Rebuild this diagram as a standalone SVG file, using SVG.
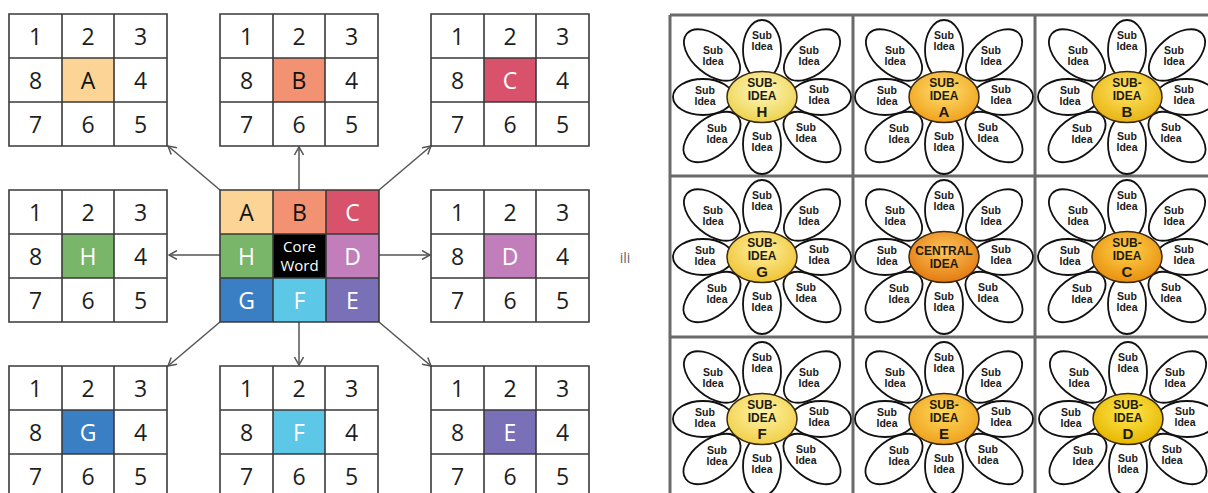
<svg xmlns="http://www.w3.org/2000/svg" xmlns:xlink="http://www.w3.org/1999/xlink" width="1208" height="493" viewBox="0 0 1208 493">
<style>
.bg{fill:#ffffff}
.gl{stroke:#3a3a3a;stroke-width:1.6;fill:none}
.d{font-family:"Open Sans","Noto Sans",sans-serif;font-size:23px;fill:#1e1e1e;text-anchor:middle}
.lw{fill:#ffffff}
.lb{fill:#111111}
.cw{font-family:"Open Sans","Noto Sans",sans-serif;font-size:15px;fill:#ffffff;text-anchor:middle}
.ar{stroke:#555555;stroke-width:1.5;fill:none}
.ili{font-family:"Open Sans","Noto Sans",sans-serif;font-size:14px;fill:#666666;text-anchor:middle}
.fg{stroke:#6a6a6a;stroke-width:3;fill:none}
.pt{fill:#ffffff;stroke:#111111;stroke-width:1.8}
.ce{stroke:#3a2a10;stroke-width:1.5}
.s{font-family:"Liberation Sans",Arial,sans-serif;font-size:10.5px;font-weight:bold;fill:#1a1a1a;text-anchor:middle}
.ct{font-family:"Liberation Sans",Arial,sans-serif;font-size:12px;font-weight:bold;fill:#1f1a10;text-anchor:middle}
.cl{font-family:"Liberation Sans",Arial,sans-serif;font-size:15px;font-weight:bold;fill:#1f1a10;text-anchor:middle}
</style>
<defs>
<marker id="ah" viewBox="0 0 10 10" refX="9" refY="5" markerWidth="10" markerHeight="10" markerUnits="userSpaceOnUse" orient="auto">
<path d="M1,0.5 L9,5 L1,9.5" fill="none" stroke="#555555" stroke-width="1.5"/>
</marker>
<radialGradient id="gH" cx="50%" cy="38%" r="62%"><stop offset="0" stop-color="#fff8c0"/><stop offset="1" stop-color="#ecd24e"/></radialGradient>
<radialGradient id="gA" cx="50%" cy="38%" r="62%"><stop offset="0" stop-color="#ffe070"/><stop offset="1" stop-color="#f0a11c"/></radialGradient>
<radialGradient id="gB" cx="50%" cy="38%" r="62%"><stop offset="0" stop-color="#ffe766"/><stop offset="1" stop-color="#e8b313"/></radialGradient>
<radialGradient id="gG" cx="50%" cy="38%" r="62%"><stop offset="0" stop-color="#fff0a0"/><stop offset="1" stop-color="#efc435"/></radialGradient>
<radialGradient id="gX" cx="50%" cy="38%" r="62%"><stop offset="0" stop-color="#ffc65a"/><stop offset="1" stop-color="#e27a10"/></radialGradient>
<radialGradient id="gC" cx="50%" cy="38%" r="62%"><stop offset="0" stop-color="#ffd24a"/><stop offset="1" stop-color="#e8900f"/></radialGradient>
<radialGradient id="gF" cx="50%" cy="38%" r="62%"><stop offset="0" stop-color="#fff4a8"/><stop offset="1" stop-color="#f0cf48"/></radialGradient>
<radialGradient id="gE" cx="50%" cy="38%" r="62%"><stop offset="0" stop-color="#ffd85a"/><stop offset="1" stop-color="#eea21e"/></radialGradient>
<radialGradient id="gD" cx="50%" cy="38%" r="62%"><stop offset="0" stop-color="#ffe850"/><stop offset="1" stop-color="#e6b600"/></radialGradient>
<g id="petals">
<ellipse class="pt" rx="33" ry="19" transform="translate(-50,-42) rotate(40)"/>
<ellipse class="pt" rx="33" ry="19" transform="translate(50,-42) rotate(-40)"/>
<ellipse class="pt" rx="33" ry="19" transform="translate(-50,40) rotate(-38)"/>
<ellipse class="pt" rx="33" ry="19" transform="translate(50,40) rotate(38)"/>
<ellipse class="pt" cx="-59" cy="0" rx="30" ry="18"/>
<ellipse class="pt" cx="59" cy="0" rx="30" ry="18"/>
<ellipse class="pt" cx="0" cy="-47" rx="19" ry="30"/>
<ellipse class="pt" cx="0" cy="47" rx="19" ry="30"/>
</g>
<g id="grid">
<rect class="bg" x="0" y="0" width="158" height="132"/>
</g>
</defs>
<rect x="0" y="0" width="1208" height="493" fill="#ffffff"/>

<!-- connectors -->
<g id="connectors">
<line class="ar" x1="220" y1="190" x2="168" y2="146" marker-end="url(#ah)"/>
<line class="ar" x1="299" y1="190" x2="299" y2="147" marker-end="url(#ah)"/>
<line class="ar" x1="379" y1="190" x2="431" y2="146" marker-end="url(#ah)"/>
<line class="ar" x1="220" y1="255" x2="169" y2="255" marker-end="url(#ah)"/>
<line class="ar" x1="379" y1="255" x2="430" y2="255" marker-end="url(#ah)"/>
<line class="ar" x1="220" y1="322" x2="168" y2="366" marker-end="url(#ah)"/>
<line class="ar" x1="299" y1="322" x2="299" y2="365" marker-end="url(#ah)"/>
<line class="ar" x1="379" y1="322" x2="431" y2="366" marker-end="url(#ah)"/>
</g>

<!-- outer grids -->
<g id="grid-A" transform="translate(9,14)">
<rect class="bg" x="0" y="0" width="158" height="132"/>
<rect x="53" y="44" width="52" height="44" fill="#fbd496"/>
<path class="gl" d="M0,0H158V132H0Z M53,0V132 M105,0V132 M0,44H158 M0,88H158"/>
<text class="d" x="26.5" y="30.5">1</text><text class="d" x="79" y="30.5">2</text><text class="d" x="131.5" y="30.5">3</text>
<text class="d" x="26.5" y="74.5">8</text><text class="d lb" x="79" y="74.5">A</text><text class="d" x="131.5" y="74.5">4</text>
<text class="d" x="26.5" y="118.5">7</text><text class="d" x="79" y="118.5">6</text><text class="d" x="131.5" y="118.5">5</text>
</g>
<g id="grid-B" transform="translate(220,14)">
<rect class="bg" x="0" y="0" width="158" height="132"/>
<rect x="53" y="44" width="52" height="44" fill="#f39272"/>
<path class="gl" d="M0,0H158V132H0Z M53,0V132 M105,0V132 M0,44H158 M0,88H158"/>
<text class="d" x="26.5" y="30.5">1</text><text class="d" x="79" y="30.5">2</text><text class="d" x="131.5" y="30.5">3</text>
<text class="d" x="26.5" y="74.5">8</text><text class="d lb" x="79" y="74.5">B</text><text class="d" x="131.5" y="74.5">4</text>
<text class="d" x="26.5" y="118.5">7</text><text class="d" x="79" y="118.5">6</text><text class="d" x="131.5" y="118.5">5</text>
</g>
<g id="grid-C" transform="translate(431,14)">
<rect class="bg" x="0" y="0" width="158" height="132"/>
<rect x="53" y="44" width="52" height="44" fill="#d9526b"/>
<path class="gl" d="M0,0H158V132H0Z M53,0V132 M105,0V132 M0,44H158 M0,88H158"/>
<text class="d" x="26.5" y="30.5">1</text><text class="d" x="79" y="30.5">2</text><text class="d" x="131.5" y="30.5">3</text>
<text class="d" x="26.5" y="74.5">8</text><text class="d lw" x="79" y="74.5">C</text><text class="d" x="131.5" y="74.5">4</text>
<text class="d" x="26.5" y="118.5">7</text><text class="d" x="79" y="118.5">6</text><text class="d" x="131.5" y="118.5">5</text>
</g>
<g id="grid-H" transform="translate(9,190)">
<rect class="bg" x="0" y="0" width="158" height="132"/>
<rect x="53" y="44" width="52" height="44" fill="#79b66a"/>
<path class="gl" d="M0,0H158V132H0Z M53,0V132 M105,0V132 M0,44H158 M0,88H158"/>
<text class="d" x="26.5" y="30.5">1</text><text class="d" x="79" y="30.5">2</text><text class="d" x="131.5" y="30.5">3</text>
<text class="d" x="26.5" y="74.5">8</text><text class="d lw" x="79" y="74.5">H</text><text class="d" x="131.5" y="74.5">4</text>
<text class="d" x="26.5" y="118.5">7</text><text class="d" x="79" y="118.5">6</text><text class="d" x="131.5" y="118.5">5</text>
</g>
<g id="grid-D" transform="translate(431,190)">
<rect class="bg" x="0" y="0" width="158" height="132"/>
<rect x="53" y="44" width="52" height="44" fill="#c27dbb"/>
<path class="gl" d="M0,0H158V132H0Z M53,0V132 M105,0V132 M0,44H158 M0,88H158"/>
<text class="d" x="26.5" y="30.5">1</text><text class="d" x="79" y="30.5">2</text><text class="d" x="131.5" y="30.5">3</text>
<text class="d" x="26.5" y="74.5">8</text><text class="d lw" x="79" y="74.5">D</text><text class="d" x="131.5" y="74.5">4</text>
<text class="d" x="26.5" y="118.5">7</text><text class="d" x="79" y="118.5">6</text><text class="d" x="131.5" y="118.5">5</text>
</g>
<g id="grid-G" transform="translate(9,366)">
<rect class="bg" x="0" y="0" width="158" height="132"/>
<rect x="53" y="44" width="52" height="44" fill="#3a7ec3"/>
<path class="gl" d="M0,0H158V132H0Z M53,0V132 M105,0V132 M0,44H158 M0,88H158"/>
<text class="d" x="26.5" y="30.5">1</text><text class="d" x="79" y="30.5">2</text><text class="d" x="131.5" y="30.5">3</text>
<text class="d" x="26.5" y="74.5">8</text><text class="d lw" x="79" y="74.5">G</text><text class="d" x="131.5" y="74.5">4</text>
<text class="d" x="26.5" y="118.5">7</text><text class="d" x="79" y="118.5">6</text><text class="d" x="131.5" y="118.5">5</text>
</g>
<g id="grid-F" transform="translate(220,366)">
<rect class="bg" x="0" y="0" width="158" height="132"/>
<rect x="53" y="44" width="52" height="44" fill="#5cc7e7"/>
<path class="gl" d="M0,0H158V132H0Z M53,0V132 M105,0V132 M0,44H158 M0,88H158"/>
<text class="d" x="26.5" y="30.5">1</text><text class="d" x="79" y="30.5">2</text><text class="d" x="131.5" y="30.5">3</text>
<text class="d" x="26.5" y="74.5">8</text><text class="d lw" x="79" y="74.5">F</text><text class="d" x="131.5" y="74.5">4</text>
<text class="d" x="26.5" y="118.5">7</text><text class="d" x="79" y="118.5">6</text><text class="d" x="131.5" y="118.5">5</text>
</g>
<g id="grid-E" transform="translate(431,366)">
<rect class="bg" x="0" y="0" width="158" height="132"/>
<rect x="53" y="44" width="52" height="44" fill="#7a70b8"/>
<path class="gl" d="M0,0H158V132H0Z M53,0V132 M105,0V132 M0,44H158 M0,88H158"/>
<text class="d" x="26.5" y="30.5">1</text><text class="d" x="79" y="30.5">2</text><text class="d" x="131.5" y="30.5">3</text>
<text class="d" x="26.5" y="74.5">8</text><text class="d lw" x="79" y="74.5">E</text><text class="d" x="131.5" y="74.5">4</text>
<text class="d" x="26.5" y="118.5">7</text><text class="d" x="79" y="118.5">6</text><text class="d" x="131.5" y="118.5">5</text>
</g>

<!-- center grid -->
<g id="core" transform="translate(220,190)">
<rect x="0" y="0" width="53" height="44" fill="#fbd496"/>
<rect x="53" y="0" width="53" height="44" fill="#f39272"/>
<rect x="106" y="0" width="53" height="44" fill="#d9526b"/>
<rect x="0" y="44" width="53" height="44" fill="#79b66a"/>
<rect x="53" y="44" width="53" height="44" fill="#000000"/>
<rect x="106" y="44" width="53" height="44" fill="#c27dbb"/>
<rect x="0" y="88" width="53" height="44" fill="#3a7ec3"/>
<rect x="53" y="88" width="53" height="44" fill="#5cc7e7"/>
<rect x="106" y="88" width="53" height="44" fill="#7a70b8"/>
<path class="gl" d="M0,0H159V132H0Z M53,0V132 M106,0V132 M0,44H159 M0,88H159"/>
<text class="d lb" x="26.5" y="30.5">A</text><text class="d lb" x="79.5" y="30.5">B</text><text class="d lw" x="132.5" y="30.5">C</text>
<text class="d lw" x="26.5" y="74.5">H</text><text class="d lw" x="132.5" y="74.5">D</text>
<text class="d lw" x="26.5" y="118.5">G</text><text class="d lw" x="79.5" y="118.5">F</text><text class="d lw" x="132.5" y="118.5">E</text>
<text class="cw" x="79.5" y="61.5">Core</text>
<text class="cw" x="79.5" y="80.5">Word</text>
</g>

<text class="ili" x="625" y="263">ili</text>

<!-- flower grid -->
<g id="flower-grid">
<path class="fg" d="M670,15H1210 M670,176H1210 M670,337H1210 M670,15V495 M853,15V495 M1035,15V495"/>
</g>

<g id="flower-H" transform="translate(762,97)">
<use xlink:href="#petals" href="#petals"/>
<ellipse class="ce" rx="35" ry="25.5" fill="url(#gH)"/>
<text class="s" x="0" y="-58">Sub</text><text class="s" x="0" y="-47">Idea</text>
<text class="s" x="0" y="43">Sub</text><text class="s" x="0" y="54">Idea</text>
<text class="s" x="-57" y="-3">Sub</text><text class="s" x="-57" y="8">Idea</text>
<text class="s" x="57" y="-4">Sub</text><text class="s" x="57" y="7">Idea</text>
<text class="s" x="-49" y="-43">Sub</text><text class="s" x="-49" y="-32">Idea</text>
<text class="s" x="47" y="-43">Sub</text><text class="s" x="47" y="-32">Idea</text>
<text class="s" x="-45" y="35">Sub</text><text class="s" x="-45" y="46">Idea</text>
<text class="s" x="44" y="34">Sub</text><text class="s" x="44" y="45">Idea</text>
<text class="ct" x="0" y="-10">SUB-</text><text class="ct" x="0" y="3">IDEA</text><text class="cl" x="0" y="20">H</text>
</g>
<g id="flower-A" transform="translate(944,97)">
<use xlink:href="#petals" href="#petals"/>
<ellipse class="ce" rx="35" ry="25.5" fill="url(#gA)"/>
<text class="s" x="0" y="-58">Sub</text><text class="s" x="0" y="-47">Idea</text>
<text class="s" x="0" y="43">Sub</text><text class="s" x="0" y="54">Idea</text>
<text class="s" x="-57" y="-3">Sub</text><text class="s" x="-57" y="8">Idea</text>
<text class="s" x="57" y="-4">Sub</text><text class="s" x="57" y="7">Idea</text>
<text class="s" x="-49" y="-43">Sub</text><text class="s" x="-49" y="-32">Idea</text>
<text class="s" x="47" y="-43">Sub</text><text class="s" x="47" y="-32">Idea</text>
<text class="s" x="-45" y="35">Sub</text><text class="s" x="-45" y="46">Idea</text>
<text class="s" x="44" y="34">Sub</text><text class="s" x="44" y="45">Idea</text>
<text class="ct" x="0" y="-10">SUB-</text><text class="ct" x="0" y="3">IDEA</text><text class="cl" x="0" y="20">A</text>
</g>
<g id="flower-B" transform="translate(1127,97)">
<use xlink:href="#petals" href="#petals"/>
<ellipse class="ce" rx="35" ry="25.5" fill="url(#gB)"/>
<text class="s" x="0" y="-58">Sub</text><text class="s" x="0" y="-47">Idea</text>
<text class="s" x="0" y="43">Sub</text><text class="s" x="0" y="54">Idea</text>
<text class="s" x="-57" y="-3">Sub</text><text class="s" x="-57" y="8">Idea</text>
<text class="s" x="57" y="-4">Sub</text><text class="s" x="57" y="7">Idea</text>
<text class="s" x="-49" y="-43">Sub</text><text class="s" x="-49" y="-32">Idea</text>
<text class="s" x="47" y="-43">Sub</text><text class="s" x="47" y="-32">Idea</text>
<text class="s" x="-45" y="35">Sub</text><text class="s" x="-45" y="46">Idea</text>
<text class="s" x="44" y="34">Sub</text><text class="s" x="44" y="45">Idea</text>
<text class="ct" x="0" y="-10">SUB-</text><text class="ct" x="0" y="3">IDEA</text><text class="cl" x="0" y="20">B</text>
</g>
<g id="flower-G" transform="translate(762,257)">
<use xlink:href="#petals" href="#petals"/>
<ellipse class="ce" rx="35" ry="25.5" fill="url(#gG)"/>
<text class="s" x="0" y="-58">Sub</text><text class="s" x="0" y="-47">Idea</text>
<text class="s" x="0" y="43">Sub</text><text class="s" x="0" y="54">Idea</text>
<text class="s" x="-57" y="-3">Sub</text><text class="s" x="-57" y="8">Idea</text>
<text class="s" x="57" y="-4">Sub</text><text class="s" x="57" y="7">Idea</text>
<text class="s" x="-49" y="-43">Sub</text><text class="s" x="-49" y="-32">Idea</text>
<text class="s" x="47" y="-43">Sub</text><text class="s" x="47" y="-32">Idea</text>
<text class="s" x="-45" y="35">Sub</text><text class="s" x="-45" y="46">Idea</text>
<text class="s" x="44" y="34">Sub</text><text class="s" x="44" y="45">Idea</text>
<text class="ct" x="0" y="-10">SUB-</text><text class="ct" x="0" y="3">IDEA</text><text class="cl" x="0" y="20">G</text>
</g>
<g id="flower-central" transform="translate(944,257)">
<use xlink:href="#petals" href="#petals"/>
<ellipse class="ce" rx="35" ry="25.5" fill="url(#gX)"/>
<text class="s" x="0" y="-58">Sub</text><text class="s" x="0" y="-47">Idea</text>
<text class="s" x="0" y="43">Sub</text><text class="s" x="0" y="54">Idea</text>
<text class="s" x="-57" y="-3">Sub</text><text class="s" x="-57" y="8">Idea</text>
<text class="s" x="57" y="-4">Sub</text><text class="s" x="57" y="7">Idea</text>
<text class="s" x="-49" y="-43">Sub</text><text class="s" x="-49" y="-32">Idea</text>
<text class="s" x="47" y="-43">Sub</text><text class="s" x="47" y="-32">Idea</text>
<text class="s" x="-45" y="35">Sub</text><text class="s" x="-45" y="46">Idea</text>
<text class="s" x="44" y="34">Sub</text><text class="s" x="44" y="45">Idea</text>
<text class="ct" x="0" y="-2">CENTRAL</text><text class="ct" x="0" y="11">IDEA</text>
</g>
<g id="flower-C" transform="translate(1127,257)">
<use xlink:href="#petals" href="#petals"/>
<ellipse class="ce" rx="35" ry="25.5" fill="url(#gC)"/>
<text class="s" x="0" y="-58">Sub</text><text class="s" x="0" y="-47">Idea</text>
<text class="s" x="0" y="43">Sub</text><text class="s" x="0" y="54">Idea</text>
<text class="s" x="-57" y="-3">Sub</text><text class="s" x="-57" y="8">Idea</text>
<text class="s" x="57" y="-4">Sub</text><text class="s" x="57" y="7">Idea</text>
<text class="s" x="-49" y="-43">Sub</text><text class="s" x="-49" y="-32">Idea</text>
<text class="s" x="47" y="-43">Sub</text><text class="s" x="47" y="-32">Idea</text>
<text class="s" x="-45" y="35">Sub</text><text class="s" x="-45" y="46">Idea</text>
<text class="s" x="44" y="34">Sub</text><text class="s" x="44" y="45">Idea</text>
<text class="ct" x="0" y="-10">SUB-</text><text class="ct" x="0" y="3">IDEA</text><text class="cl" x="0" y="20">C</text>
</g>
<g id="flower-F" transform="translate(762,419)">
<use xlink:href="#petals" href="#petals"/>
<ellipse class="ce" rx="35" ry="25.5" fill="url(#gF)"/>
<text class="s" x="0" y="-58">Sub</text><text class="s" x="0" y="-47">Idea</text>
<text class="s" x="0" y="43">Sub</text><text class="s" x="0" y="54">Idea</text>
<text class="s" x="-57" y="-3">Sub</text><text class="s" x="-57" y="8">Idea</text>
<text class="s" x="57" y="-4">Sub</text><text class="s" x="57" y="7">Idea</text>
<text class="s" x="-49" y="-43">Sub</text><text class="s" x="-49" y="-32">Idea</text>
<text class="s" x="47" y="-43">Sub</text><text class="s" x="47" y="-32">Idea</text>
<text class="s" x="-45" y="35">Sub</text><text class="s" x="-45" y="46">Idea</text>
<text class="s" x="44" y="34">Sub</text><text class="s" x="44" y="45">Idea</text>
<text class="ct" x="0" y="-10">SUB-</text><text class="ct" x="0" y="3">IDEA</text><text class="cl" x="0" y="20">F</text>
</g>
<g id="flower-E" transform="translate(944,419)">
<use xlink:href="#petals" href="#petals"/>
<ellipse class="ce" rx="35" ry="25.5" fill="url(#gE)"/>
<text class="s" x="0" y="-58">Sub</text><text class="s" x="0" y="-47">Idea</text>
<text class="s" x="0" y="43">Sub</text><text class="s" x="0" y="54">Idea</text>
<text class="s" x="-57" y="-3">Sub</text><text class="s" x="-57" y="8">Idea</text>
<text class="s" x="57" y="-4">Sub</text><text class="s" x="57" y="7">Idea</text>
<text class="s" x="-49" y="-43">Sub</text><text class="s" x="-49" y="-32">Idea</text>
<text class="s" x="47" y="-43">Sub</text><text class="s" x="47" y="-32">Idea</text>
<text class="s" x="-45" y="35">Sub</text><text class="s" x="-45" y="46">Idea</text>
<text class="s" x="44" y="34">Sub</text><text class="s" x="44" y="45">Idea</text>
<text class="ct" x="0" y="-10">SUB-</text><text class="ct" x="0" y="3">IDEA</text><text class="cl" x="0" y="20">E</text>
</g>
<g id="flower-D" transform="translate(1128,419)">
<use xlink:href="#petals" href="#petals"/>
<ellipse class="ce" rx="35" ry="25.5" fill="url(#gD)"/>
<text class="s" x="0" y="-58">Sub</text><text class="s" x="0" y="-47">Idea</text>
<text class="s" x="0" y="43">Sub</text><text class="s" x="0" y="54">Idea</text>
<text class="s" x="-57" y="-3">Sub</text><text class="s" x="-57" y="8">Idea</text>
<text class="s" x="57" y="-4">Sub</text><text class="s" x="57" y="7">Idea</text>
<text class="s" x="-49" y="-43">Sub</text><text class="s" x="-49" y="-32">Idea</text>
<text class="s" x="47" y="-43">Sub</text><text class="s" x="47" y="-32">Idea</text>
<text class="s" x="-45" y="35">Sub</text><text class="s" x="-45" y="46">Idea</text>
<text class="s" x="44" y="34">Sub</text><text class="s" x="44" y="45">Idea</text>
<text class="ct" x="0" y="-10">SUB-</text><text class="ct" x="0" y="3">IDEA</text><text class="cl" x="0" y="20">D</text>
</g>
</svg>
